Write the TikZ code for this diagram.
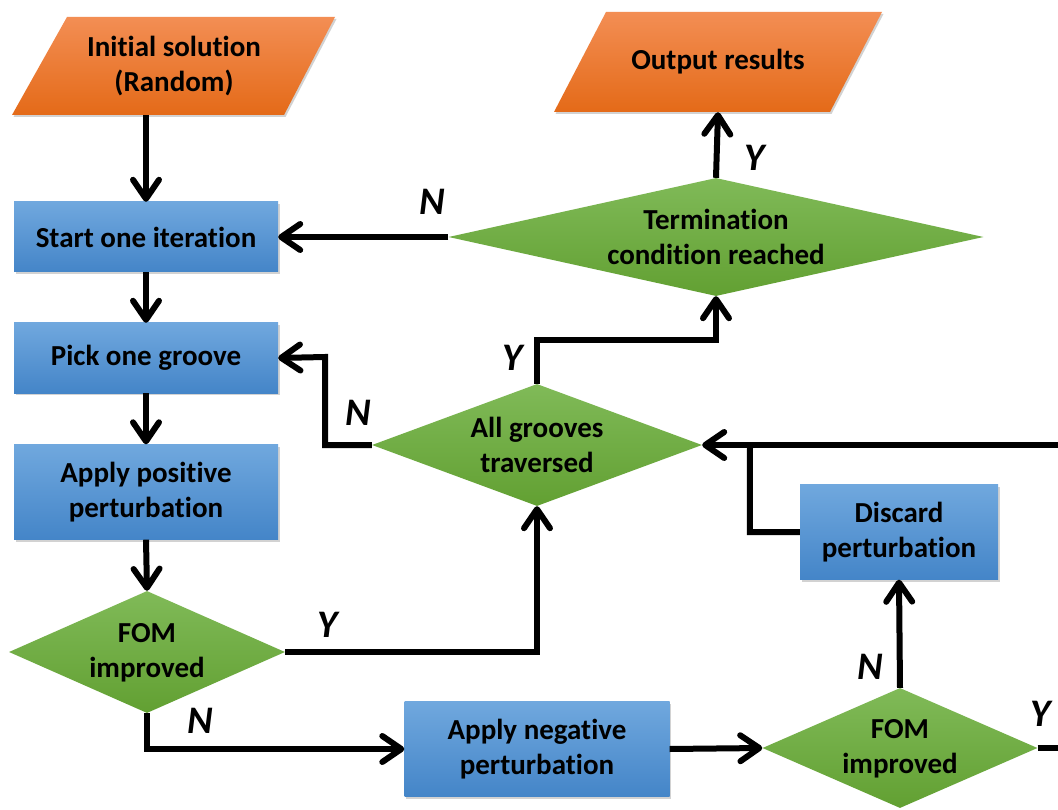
\documentclass[tikz,border=0pt]{standalone}
\usepackage{fontspec}
\setmainfont{Carlito}[Ligatures=NoCommon]
\usetikzlibrary{shapes.geometric,arrows.meta,shadows,calc}
\definecolor{bluetop}{RGB}{112,168,222}
\definecolor{bluebot}{RGB}{68,133,200}
\definecolor{orangetop}{RGB}{243,142,84}
\definecolor{orangebot}{RGB}{228,106,24}
\definecolor{greentop}{RGB}{128,186,88}
\definecolor{greenbot}{RGB}{98,160,50}
\tikzset{
  txt/.style={font=\fontsize{29}{35}\selectfont\bfseries, align=center, text=black, inner sep=0pt},
  procbox/.style={txt, rectangle, top color=bluetop, bottom color=bluebot, draw=none,
    drop shadow={opacity=0.35, shadow xshift=1.5pt, shadow yshift=-2pt}},
  decbox/.style={diamond, inner sep=0pt, top color=greentop, bottom color=greenbot, draw=none},
  iobox/.style={txt, rectangle, draw=none},
  conn/.style={line width=6pt, draw=black},
  arr/.style={conn, -{Straight Barb[length=19pt, width=26pt, line cap=round, line join=round]}},
  lbl/.style={font=\fontsize{39}{40}\selectfont\bfseries\itshape, inner sep=0pt, text=black},
  iofill/.style={top color=orangetop, bottom color=orangebot, draw=none,
    drop shadow={opacity=0.35, shadow xshift=1.5pt, shadow yshift=-2pt}}
}
\begin{document}
\begin{tikzpicture}[x=1pt,y=-1pt]
\useasboundingbox (0,0) rectangle (1058,810);
\clip (0,0) rectangle (1058,810);
\fill[white] (0,0) rectangle (1058,810);

% parallelogram shapes
\path[iofill] (12,115) -- (67,17) -- (335,17) -- (284,115) -- cycle;
\path[iofill] (554,112) -- (606,12) -- (882,12) -- (830,112) -- cycle;

% nodes
\node[iobox, minimum width=323pt, minimum height=98pt] (init) at (174,66) {Initial solution\\(Random)};
\node[iobox, minimum width=328pt, minimum height=100pt] (out) at (718,62) {Output results};
\node[procbox, minimum width=264pt, minimum height=70pt] (start) at (146,237) {Start one iteration};
\node[procbox, minimum width=264pt, minimum height=70pt] (pick) at (146,358) {Pick one groove};
\node[procbox, minimum width=264pt, minimum height=95pt] (apos) at (146,492) {Apply positive\\perturbation};
\node[procbox, minimum width=265pt, minimum height=95pt] (aneg) at (537,749) {Apply negative\\perturbation};
\node[procbox, minimum width=198pt, minimum height=95pt] (disc) at (899,532) {Discard\\perturbation};

\node[decbox, minimum width=276pt, minimum height=122pt] (fom1) at (147,652) {};
\node[txt] (fom1t) at (147,653) {FOM\\improved};
\node[decbox, minimum width=275pt, minimum height=120pt] (fom2) at (900,748) {};
\node[txt] (fom2t) at (900,749) {FOM\\improved};
\node[decbox, minimum width=330pt, minimum height=122pt] (allg) at (537,445) {};
\node[txt] (allgt) at (allg) {All grooves\\traversed};
\node[decbox, minimum width=535pt, minimum height=118pt] (term) at (716,237) {};
\node[txt] (termt) at (term) {Termination\\condition reached};

\coordinate (offR) at (1075,445);
\coordinate (offY) at (1075,748);

% connectors
\draw[arr] (init.south -| start.north) -- (start.north);
\draw[arr] (start.south) -- (pick.north);
\draw[arr] (pick.south) -- (apos.north);
\draw[arr] (apos.south) -- (fom1.north);
\draw[arr] (fom1.east) -- (fom1.east -| allg.south) -- (allg.south);
\draw[arr] (fom1.south) |- (aneg.west);
\draw[arr] (aneg.east) -- (fom2.west);
\draw[arr] (fom2.north) -- (disc.south);
\draw[conn] (fom2.east) -- (offY);
\draw[arr] (offR) -- (allg.east);
\draw[conn] (disc.west) -- ++(-50,0) -- (750,445);
\draw[arr] (allg.west) -- (325,445) -- (325,357) -- (pick.east);
\draw[arr] (allg.north) -- (537,340) -- (716,340) -- (term.south);
\draw[arr] (term.west) -- (start.east);
\draw[arr] (term.north) -- (out.south);

% labels
\node[lbl] (l1) at (432,202) {N};
\node[lbl] (l2) at (755,158) {Y};
\node[lbl] (l3) at (513,358) {Y};
\node[lbl] (l4) at (358,413) {N};
\node[lbl] (l5) at (328,625) {Y};
\node[lbl] (l6) at (200,721) {N};
\node[lbl] (l7) at (870,667) {N};
\node[lbl] (l8) at (1041,714) {Y};
\end{tikzpicture}
\end{document}
